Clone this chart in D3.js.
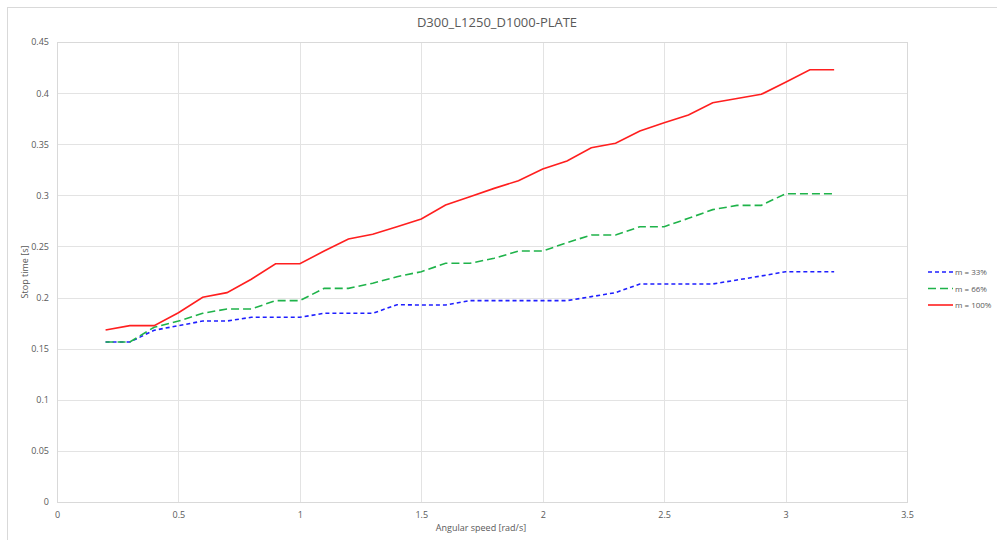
<!DOCTYPE html>
<html><head><meta charset="utf-8">
<script src="https://cdn.jsdelivr.net/npm/d3@7"></script>
<style>
body{margin:0;background:#fff;}
text{font-family:"Liberation Sans Narrow","Open Sans",Lato,sans-serif;fill:#595959;}
</style></head><body>
<svg id="c" width="997" height="540"></svg>
<script>
const title = "D300_L1250_D1000-PLATE";
const xTitle = "Angular speed [rad/s]";
const yTitle = "Stop time [s]";
const speeds = [0.2,0.3,0.4,0.5,0.6,0.7,0.8,0.9,1.0,1.1,1.2,1.3,1.4,1.5,1.6,1.7,1.8,1.9,2.0,2.1,2.2,2.3,2.4,2.5,2.6,2.7,2.8,2.9,3.0,3.1,3.2];
const m33 = [0.1565,0.1565,0.168,0.1725,0.177,0.177,0.1807,0.1807,0.1807,0.1846,0.1846,0.1846,0.193,0.1927,0.1927,0.197,0.197,0.197,0.197,0.197,0.2009,0.2048,0.2133,0.2133,0.2133,0.2133,0.2172,0.2211,0.2253,0.2253,0.2253];
const m66 = [0.1565,0.1565,0.171,0.177,0.1846,0.1888,0.1888,0.197,0.197,0.209,0.209,0.214,0.2204,0.2253,0.2335,0.2335,0.2384,0.2455,0.2455,0.2537,0.2612,0.2612,0.2693,0.2693,0.2775,0.286,0.2902,0.2902,0.3016,0.3016,0.3016];
const m100 = [0.1683,0.1725,0.1725,0.1852,0.2003,0.2048,0.2179,0.2331,0.2331,0.2455,0.2573,0.2619,0.2693,0.2768,0.2905,0.2987,0.3068,0.3143,0.3258,0.3336,0.3465,0.351,0.363,0.371,0.3786,0.3906,0.3947,0.3988,0.4106,0.4229,0.4229];
const seriesNames = ["m = 33%","m = 66%","m = 100%"];
const seriesColors = ["#1f1fff","#1fb34a","#ff1f1f"];
const seriesDash = ["4,3","8,4",null];
const xTicks = [0,0.5,1,1.5,2,2.5,3,3.5];
const yTicks = [0,0.05,0.1,0.15,0.2,0.25,0.3,0.35,0.4,0.45];

const svg = d3.select("#c");
// outer chart frame
svg.append("rect").attr("x",7.5).attr("y",7.5).attr("width",1000).attr("height",540)
  .attr("fill","none").attr("stroke","#d9d9d9");

const L=57,T=42,R=907,B=502;
const x = d3.scaleLinear().domain([0,3.5]).range([L,R]);
const y = d3.scaleLinear().domain([0,0.45]).range([B,T]);

// gridlines
svg.append("g").selectAll("line").data(xTicks).join("line")
  .attr("x1",d=>Math.round(x(d))+0.5).attr("x2",d=>Math.round(x(d))+0.5)
  .attr("y1",T).attr("y2",B).attr("stroke","#e3e3e3");
svg.append("g").selectAll("line").data(yTicks).join("line")
  .attr("y1",d=>Math.round(y(d))+0.5).attr("y2",d=>Math.round(y(d))+0.5)
  .attr("x1",L).attr("x2",R).attr("stroke","#e3e3e3");
svg.append("rect").attr("x",L+0.5).attr("y",T+0.5).attr("width",R-L).attr("height",B-T)
  .attr("fill","none").attr("stroke","#d9d9d9");

// axes
const xa = svg.append("g").attr("transform",`translate(0,${B})`)
  .call(d3.axisBottom(x).tickValues(xTicks).tickSize(0).tickPadding(10).tickFormat(d3.format("")));
xa.select(".domain").remove();
xa.selectAll("text").attr("font-size",9).style("fill","#595959");
const ya = svg.append("g").attr("transform",`translate(${L},0)`)
  .call(d3.axisLeft(y).tickValues(yTicks).tickSize(0).tickPadding(8).tickFormat(d3.format("")));
ya.select(".domain").remove();
ya.selectAll("text").attr("font-size",9).style("fill","#595959");

// lines
const series=[m33,m66,m100];
const line = d3.line().x((d,i)=>x(speeds[i])).y(d=>y(d));
series.forEach((s,k)=>{
  svg.append("path").datum(s).attr("d",line).attr("fill","none")
    .attr("stroke",seriesColors[k]).attr("stroke-width",1.6)
    .attr("stroke-dasharray",seriesDash[k]);
});

// titles
svg.append("text").attr("x",497).attr("y",27).attr("text-anchor","middle").attr("font-size",13).text(title);
svg.append("text").attr("x",481).attr("y",531).attr("text-anchor","middle").attr("font-size",9).text(xTitle);
svg.append("text").attr("transform","translate(28,272) rotate(-90)").attr("text-anchor","middle").attr("font-size",9).text(yTitle);

// legend
const lg = svg.append("g");
seriesNames.forEach((n,k)=>{
  const yy = 272 + k*16.5;
  lg.append("line").attr("x1",928).attr("x2",953).attr("y1",yy).attr("y2",yy)
    .attr("stroke",seriesColors[k]).attr("stroke-width",1.6).attr("stroke-dasharray",seriesDash[k]);
  lg.append("text").attr("x",955).attr("y",yy+3).attr("font-size",8).text(n);
});
</script></body></html>
